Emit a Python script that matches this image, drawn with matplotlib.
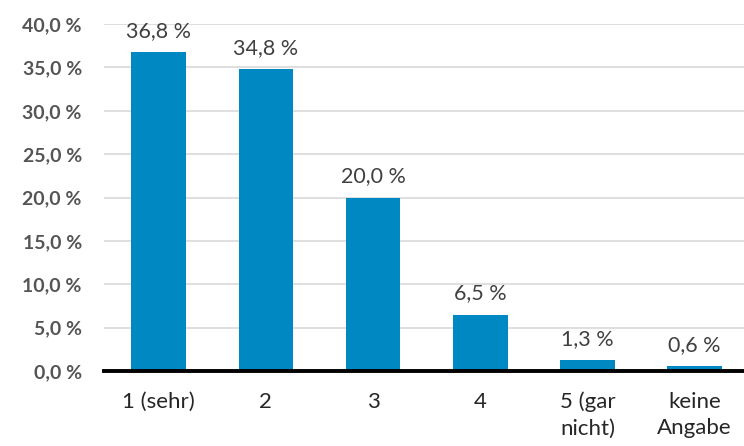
import matplotlib.pyplot as plt

categories = ['1 (sehr)', '2', '3', '4', '5 (gar\nnicht)', 'keine\nAngabe']
values = [36.8, 34.8, 20.0, 6.5, 1.3, 0.6]
yticks = [0, 5, 10, 15, 20, 25, 30, 35, 40]

plt.rcParams['font.family'] = ['Lato', 'DejaVu Sans']

fig = plt.figure(figsize=(7.44, 4.46), dpi=100)
ax = fig.add_axes([0.1398, 0.168, 0.8602, 0.778])

x = range(len(categories))
bars = ax.bar(x, values, width=0.51, color='#0088c2', zorder=3)

for b, v in zip(bars, values):
    ax.annotate(f'{v:.1f} %'.replace('.', ','),
                (b.get_x() + b.get_width() / 2, v),
                xytext=(0, 8), textcoords='offset points',
                ha='center', va='bottom', fontsize=15.5, color='#404040')

ax.set_ylim(0, 40)
ax.set_xlim(-0.51, 5.46)
ax.set_yticks(yticks)
ax.set_yticklabels([f'{t:.1f} %'.replace('.', ',') for t in yticks],
                   fontsize=14, fontweight='bold', color='#555555')
ax.set_xticks(list(x))
ax.set_xticklabels(categories, fontsize=16, color='#262626', linespacing=1.4, va='top')

ax.grid(axis='y', color='#d9d9d9', linewidth=1.2, zorder=0)
for s in ['top', 'right', 'left']:
    ax.spines[s].set_visible(False)
ax.spines['bottom'].set_linewidth(2.8)
ax.spines['bottom'].set_color('black')
ax.spines['bottom'].set_zorder(4)
ax.tick_params(axis='both', length=0)
ax.tick_params(axis='y', pad=16)
ax.tick_params(axis='x', pad=15)

fig.savefig('out.png', dpi=100)
